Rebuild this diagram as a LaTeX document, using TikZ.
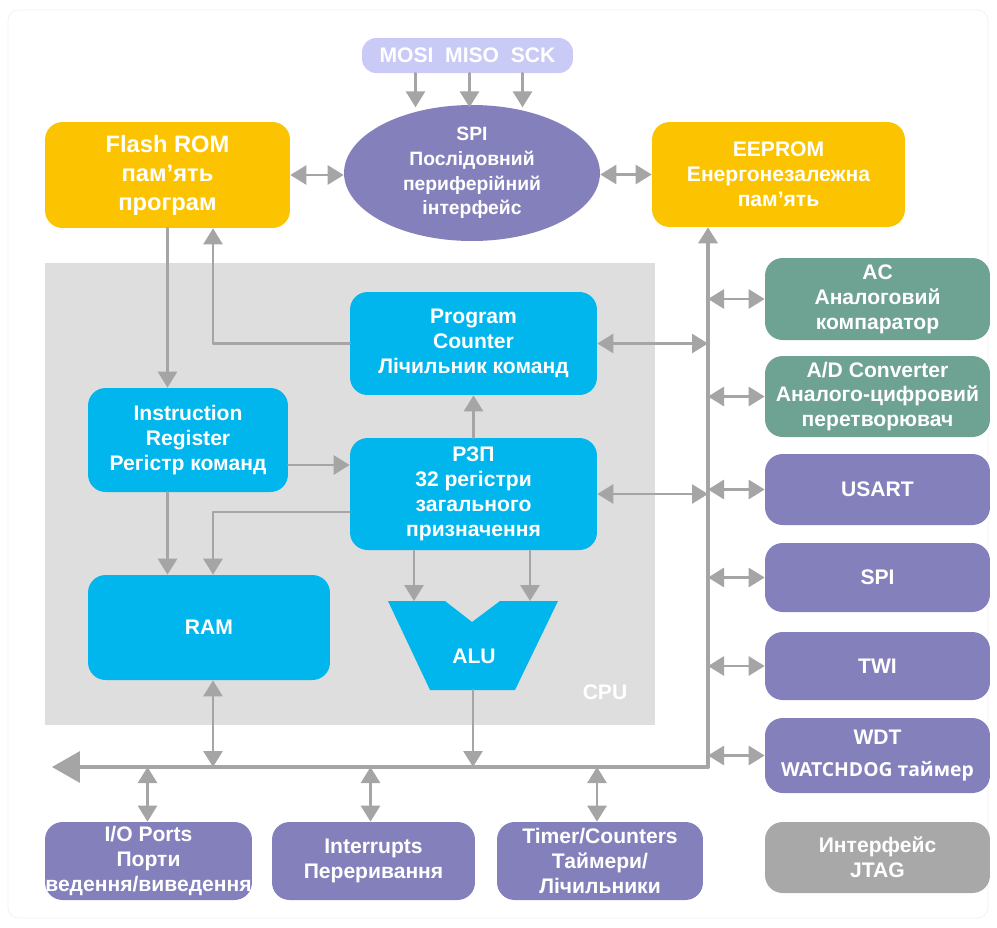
\documentclass[tikz,border=0pt]{standalone}
\usepackage{fontspec}
\setmainfont{Liberation Sans}
\newfontfamily\wdfont{Open Sans}
\usetikzlibrary{arrows.meta}
\usetikzlibrary{calc}
\usetikzlibrary{positioning}
\usetikzlibrary{shapes.geometric}

\begin{document}
\begin{tikzpicture}[x=0.02cm, y=-0.02cm, line cap=round, line join=round]

			% Colors (picked from the scheme)
			\definecolor{yelA}{RGB}{252,196,0}
			\definecolor{cyanA}{RGB}{0,182,237}
			\definecolor{purpA}{RGB}{132,128,188}
			\definecolor{greenA}{RGB}{110,162,146}
			\definecolor{grayJ}{RGB}{168,168,168}
			\definecolor{grayCPU}{RGB}{222,222,222}
			\definecolor{lilac}{RGB}{202,202,246}
			\definecolor{arrG}{RGB}{165,165,165}

			\tikzset{
				box/.style={rounded corners=10pt, text=white, inner sep=2pt, align=center,
					font=\bfseries\fontsize{12}{14.2}\selectfont},
				mem/.style={box, fill=yelA},
				core/.style={box, fill=cyanA},
				periph/.style={box, fill=purpA, minimum width=4.5cm},
				ana/.style={box, fill=greenA, minimum width=4.5cm},
				arr/.style={-{Triangle[length=0.32cm,width=0.38cm]}, line width=1.6pt, draw=arrG},
				darr/.style={{Triangle[length=0.32cm,width=0.38cm]}-{Triangle[length=0.32cm,width=0.38cm]}, line width=1.6pt, draw=arrG},
				busline/.style={-{Triangle[length=0.56cm,width=0.62cm]}, line width=2pt, draw=arrG},
			}

			\useasboundingbox (0,0) rectangle (997,927);
			\draw[black!6, rounded corners=6pt] (8,10) rectangle (988,918);

			% --- CPU area
			\node[fill=grayCPU, minimum width=12.2cm, minimum height=9.24cm, inner sep=0] (cpu) at (350,494) {};
			\node[text=white, font=\bfseries\fontsize{12}{14}\selectfont] (cpulab) at (605,692) {CPU};

			% --- Top row: memories and SPI
			\node[box, fill=lilac, rounded corners=8pt, minimum width=4.22cm, minimum height=0.7cm] (pins) at (467.5,55.5) {MOSI\ \ MISO\ \ SCK};
			\node[box, ellipse, fill=purpA, inner sep=0, minimum width=5.12cm, minimum height=2.72cm,
				font=\bfseries\fontsize{11}{14}\selectfont] (spi) at (472,173) {SPI\\Послідовний\\периферійний\\інтерфейс};
			\node[mem, minimum width=4.9cm, minimum height=2.12cm, font=\bfseries\fontsize{13.5}{16.5}\selectfont] (flash) at (167.5,175) {Flash ROM\\пам’ять\\програм};
			\node[mem, minimum width=5.06cm, minimum height=2.1cm] (eeprom) at (778.5,174.5) {EEPROM\\Енергонезалежна\\пам’ять};

			% --- Inside the CPU
			\node[core, minimum width=4.94cm, minimum height=2.06cm] (pc) at (473.5,343.5) {Program\\Counter\\Лічильник команд};
			\node[core, minimum width=4cm, minimum height=2.08cm] (ir) at (188,440) {Instruction\\Register\\Регістр команд};
			\node[core, minimum width=4.94cm, minimum height=2.24cm] (rzp) at (473.5,494) {РЗП\\32 регістри\\загального\\призначення};
			\node[core, minimum width=4.84cm, minimum height=2.1cm] (ram) at (209,627.5) {RAM};

			% ALU outline
			\coordinate (aluA) at (388,601);
			\coordinate (aluB) at (445,601);
			\coordinate (aluC) at (472,622);
			\coordinate (aluD) at (500,601);
			\coordinate (aluE) at (558,601);
			\coordinate (aluF) at (515,690);
			\coordinate (aluG) at (430,690);
			\fill[cyanA] (aluA) -- (aluB) -- (aluC) -- (aluD) -- (aluE) -- (aluF) -- (aluG) -- cycle;
			\node[text=white, font=\bfseries\fontsize{12}{14}\selectfont] (alu) at (474,656) {ALU};
			\coordinate (aluin1) at (414,601);
			\coordinate (aluin2) at (530,601);
			\coordinate (aluout) at (473,690);

			% --- Right column
			\node[ana, minimum height=1.64cm] (ac) at (877.5,299) {AC\\Аналоговий\\компаратор};
			\node[ana, minimum height=1.62cm] (adc) at (877.5,396.5) {A/D Converter\\Аналого-цифровий\\перетворювач};
			\node[periph, minimum height=1.42cm] (usart) at (877.5,489.5) {USART};
			\node[periph, minimum height=1.38cm] (spib) at (877.5,577.5) {SPI};
			\node[periph, minimum height=1.36cm] (twi) at (877.5,666) {TWI};
			\node[periph, minimum height=1.5cm] (wdt) at (877.5,755.5) {WDT\\[4pt]{\wdfont\bfseries\fontsize{11}{14}\selectfont WATCHDOG таймер}};
			\node[periph, fill=grayJ, minimum height=1.42cm] (jtag) at (877.5,857.5) {Интерфейс\\JTAG};

			% --- Bottom row
			\node[periph, minimum width=4.14cm, minimum height=1.56cm, inner sep=0pt] (io) at (148.5,861) {I/O Ports\\Порти\\ведення/виведення};
			\node[periph, minimum width=4.06cm, minimum height=1.56cm] (intr) at (373.5,861) {Interrupts\\Переривання};
			\node[periph, minimum width=4.12cm, minimum height=1.56cm] (timer) at (600,861) {Timer/Counters\\Таймери/\\Лічильники};

			% --- Bus
			\coordinate (busL) at (52,767);
			\coordinate (busR) at (708,767);
			\coordinate (col) at (213,0);
			\draw[busline] (busR) -- (busL);
			\draw[arr, line width=2pt] (busR) -- (busR |- eeprom.south);

			% --- Connectors
			\foreach \dx in {-52,2,55}
				\draw[arr] ($(pins.south)+(\dx,0)$) -- ($(pins.south)+(\dx,34)$);
			\draw[darr] (flash.east) -- (flash.east -| spi.west);
			\draw[darr] (eeprom.west -| spi.east) -- (eeprom.west);

			\draw[arr] (flash.south) -- (flash.south |- ir.north);
			\draw[arr] (pc.west) -| (col |- flash.south);
			\draw[darr] (pc.east) -- (pc.east -| busR);

			\coordinate (irout) at ($(ir.east)+(0,25)$);
			\draw[arr] (irout) -- (irout -| rzp.west);
			\draw[arr] (rzp.north) -- (pc.south);
			\draw[darr] (rzp.east) -- (rzp.east -| busR);

			\draw[arr] (ir.south -| flash.south) -- (ram.north -| flash.south);
			\coordinate (rzpout) at ($(rzp.west)+(0,18)$);
			\draw[arr] (rzpout) -| (col |- ram.north);

			\draw[arr] (rzp.south -| aluin1) -- (aluin1);
			\draw[arr] (rzp.south -| aluin2) -- (aluin2);
			\draw[arr] (aluout) -- (aluout |- busL);
			\draw[darr] (col |- ram.south) -- (col |- busL);

			\draw[darr] ($(io.north |- busL)+(-1,0)$) -- ($(io.north)+(-1,0)$);
			\draw[darr] ($(intr.north |- busL)+(-3,0)$) -- ($(intr.north)+(-3,0)$);
			\draw[darr] ($(timer.north |- busL)+(-3,0)$) -- ($(timer.north)+(-3,0)$);

			\foreach \n in {ac,adc,usart,spib,twi,wdt}
				\draw[darr] (\n.west -| busR) -- (\n.west);

		\end{tikzpicture}
\end{document}
